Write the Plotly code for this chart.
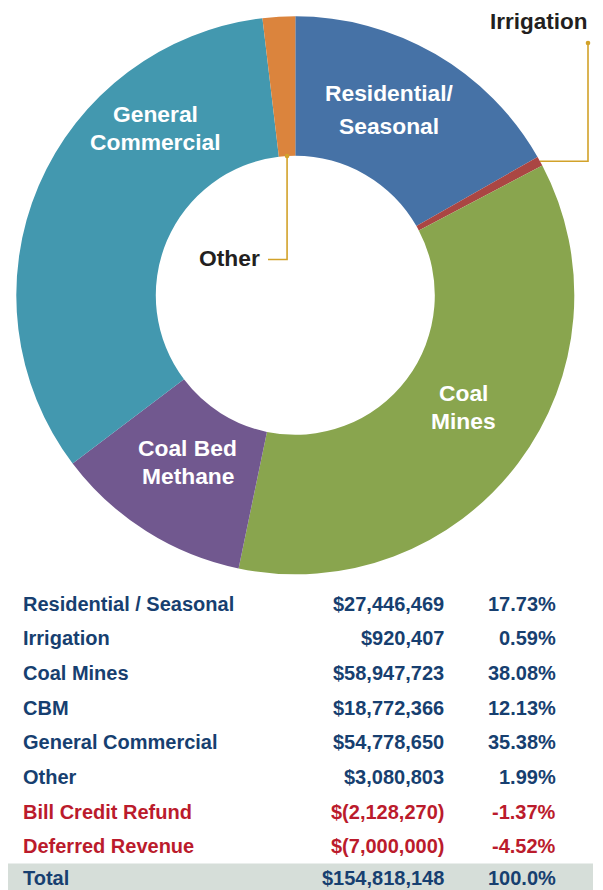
import math
import plotly.graph_objects as go

# ---------------- data ----------------
slice_names = ["Residential / Seasonal", "Irrigation", "Coal Mines", "CBM",
               "General Commercial", "Other"]
slice_values = [27446469, 920407, 58947723, 18772366, 54778650, 3080803]
slice_colors = ["#4672A6", "#AA4643", "#89A54E", "#71588F", "#4398AF", "#DB843D"]

table_labels = ["Residential / Seasonal", "Irrigation", "Coal Mines", "CBM",
                "General Commercial", "Other", "Bill Credit Refund",
                "Deferred Revenue", "Total"]
table_amounts = ["$27,446,469", "$920,407", "$58,947,723", "$18,772,366",
                 "$54,778,650", "$3,080,803", "$(2,128,270)", "$(7,000,000)",
                 "$154,818,148"]
table_pcts = ["17.73%", "0.59%", "38.08%", "12.13%", "35.38%", "1.99%",
              "-1.37%", "-4.52%", "100.0%"]

# ---------------- layout helpers ----------------
W, H = 603, 890
OFF = 8  # page body margin: the figure starts 8px in from the page corner
NAVY = "#173F70"
RED = "#BB1B2C"
GOLD = "#D2A22A"
DARK = "#231F20"
FONT = "Arial, Liberation Sans, Helvetica, sans-serif"


def px(x):
    return (x - OFF) / W


def py(y):
    return 1 - (y - OFF) / H


CX, CY, R = 295.3, 295.3, 279.0
HOLE = 0.5

fig = go.Figure()
fig.add_trace(go.Pie(
    labels=slice_names,
    values=slice_values,
    marker=dict(colors=slice_colors, line=dict(width=0)),
    hole=HOLE,
    sort=False,
    direction="clockwise",
    rotation=0,
    textinfo="none",
    hoverinfo="label+value+percent",
    showlegend=False,
    domain=dict(x=[px(CX - R), px(CX + R)], y=[py(CY + R), py(CY - R)]),
))

annotations = []
shapes = []


def add_text(x, y, text, size, color, anchor="center"):
    annotations.append(dict(
        x=px(x), y=py(y), xref="paper", yref="paper", text=text,
        showarrow=False, xanchor=anchor, yanchor="middle",
        font=dict(family=FONT, size=size, color=color, weight="bold"),
    ))


# slice labels (white)
for x, y, t in [(389.5, 93, "Residential/"), (389, 126, "Seasonal"),
                (155.5, 114, "General"), (155.5, 142, "Commercial"),
                (463, 393, "Coal"), (463, 421, "Mines"),
                (188, 448, "Coal Bed"), (188, 476, "Methane")]:
    add_text(x, y, t, 22.8, "white")

# leader anchors from data (slice mid-angles)
total = sum(slice_values)
cum = 0
mid_frac = []
for v in slice_values:
    mid_frac.append((cum + v / 2) / total)
    cum += v


def ring_point(frac, radius):
    ang = 2 * math.pi * frac
    return CX + radius * math.sin(ang), CY - radius * math.cos(ang)


# Irrigation leader (outer edge)
ix, iy = ring_point(mid_frac[1], R)
shapes.append(dict(type="path", xref="paper", yref="paper",
                   path=f"M {px(ix)} {py(iy)} L {px(588)} {py(iy)} L {px(588)} {py(43)}",
                   line=dict(color=GOLD, width=1.6)))
shapes.append(dict(type="circle", xref="paper", yref="paper",
                   x0=px(588 - 2.3), x1=px(588 + 2.3), y0=py(43 + 2.3), y1=py(43 - 2.3),
                   fillcolor=GOLD, line=dict(width=0)))
annotations.append(dict(x=px(589.5), y=py(21.5), xref="paper", yref="paper",
                        text="Irrigation", showarrow=False, xanchor="right",
                        yanchor="middle",
                        font=dict(family=FONT, size=22.5, color=DARK, weight="bold")))

# Other leader (inner edge)
ox, oy = ring_point(mid_frac[5], R * HOLE)
shapes.append(dict(type="path", xref="paper", yref="paper",
                   path=f"M {px(ox)} {py(oy)} L {px(ox)} {py(259.5)} L {px(268)} {py(259.5)}",
                   line=dict(color=GOLD, width=1.6)))
shapes.append(dict(type="circle", xref="paper", yref="paper",
                   x0=px(ox - 2.3), x1=px(ox + 2.3), y0=py(oy + 2.3), y1=py(oy - 2.3),
                   fillcolor=GOLD, line=dict(width=0)))
add_text(229.5, 258, "Other", 22.8, DARK)

# total band
shapes.append(dict(type="rect", xref="paper", yref="paper",
                   x0=px(8), x1=px(593), y0=py(900), y1=py(863.5),
                   fillcolor="#D6DED9", line=dict(width=0), layer="below"))

# table rows
ROW0, ROWSTEP = 603.5, 34.7
for i, (lab, amt, pct) in enumerate(zip(table_labels, table_amounts, table_pcts)):
    y = ROW0 + i * ROWSTEP
    if i == len(table_labels) - 1:
        y -= 3  # keep the total row fully inside the page
    color = RED if amt.startswith("$(") else NAVY
    add_text(21, y, lab, 20, color, "left")
    add_text(445.5, y, amt, 20, color, "right")
    add_text(557.5, y, pct, 20, color, "right")

fig.update_layout(
    width=W, height=H,
    margin=dict(l=0, r=0, t=0, b=0),
    paper_bgcolor="white", plot_bgcolor="white",
    annotations=annotations, shapes=shapes,
)

fig.write_html("out.html")
